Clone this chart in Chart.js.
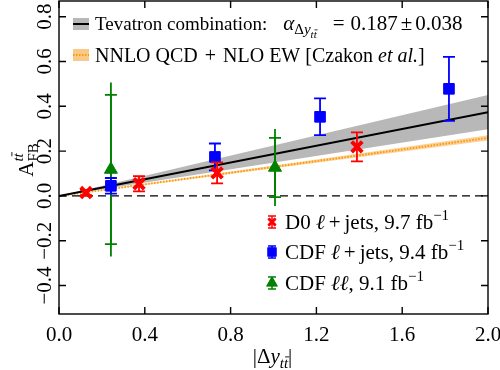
<!DOCTYPE html>
<html>
<head>
<meta charset="utf-8">
<script src="https://cdn.jsdelivr.net/npm/chart.js@4.4.0/dist/chart.umd.min.js"></script>
<style>
  html, body { margin: 0; padding: 0; background: #fff; }
  #wrap { width: 500px; height: 370px; position: relative; }
</style>
</head>
<body>
<div id="wrap"><canvas id="afbChart"></canvas></div>
<script>
// D0 lepton+jets
const d0X = [0.126, 0.373, 0.737, 1.389];
const d0Y = [0.015, 0.054, 0.103, 0.219];
const d0Err = [0.012, 0.034, 0.047, 0.065];

// CDF lepton+jets
const cdfLjX = [0.242, 0.727, 1.217, 1.818];
const cdfLjY = [0.045, 0.174, 0.353, 0.478];
const cdfLjErr = [0.035, 0.060, 0.082, 0.143];

// CDF dilepton (stat caps + total stem)
const cdfLLX = [0.242, 1.007];
const cdfLLY = [0.118, 0.127];
const cdfLLErr = [0.333, 0.132];
const cdfLLErrTot = [0.388, 0.172];

// Tevatron combination line and band
const fitX = [0, 2];
const tevY = [0, 0.374];
const tevLo = [0, 0.298];
const tevHi = [0, 0.450];

// NNLO QCD + NLO EW prediction
const nnloY = [0, 0.259];
const nnloLo = [0, 0.247];
const nnloHi = [0, 0.271];

const xTicks = [0, 0.4, 0.8, 1.2, 1.6, 2.0];
const yTicks = [-0.4, -0.2, 0, 0.2, 0.4, 0.6, 0.8];

const SERIF = '"Liberation Serif", "DejaVu Serif", serif';
const FS = 20;

function pts(xs, ys) {
    return xs.map((x, i) => ({ x: x, y: ys[i] }));
}

function fmtY(v) {
    return Number(v).toFixed(1).replace('-', '−');
}

function fontOf(p) {
    return (p.i ? 'italic ' : '') + (p.s || FS) + 'px ' + SERIF;
}

// lay out text pieces with sub/superscripts
function richLayout(ctx, parts) {
    let cx = 0, prevStart = 0, prevW = 0;
    const out = [];
    parts.forEach(p => {
        ctx.font = fontOf(p);
        const w = ctx.measureText(p.t).width;
        const start = p.stack ? prevStart : cx + (p.gap || 0);
        out.push({ p: p, start: start, w: w });
        if (p.stack) {
            cx = prevStart + Math.max(prevW, w);
        } else {
            cx = start + w;
            prevStart = start;
            prevW = w;
        }
    });
    return { out: out, width: cx };
}

function drawRich(ctx, x, y, parts, align) {
    const lay = richLayout(ctx, parts);
    const x0 = align === 'center' ? x - lay.width / 2 : x;
    ctx.textAlign = 'left';
    ctx.textBaseline = 'alphabetic';
    lay.out.forEach(o => {
        const s = o.p.s || FS;
        ctx.font = fontOf(o.p);
        const yy = y + (o.p.dy || 0);
        ctx.fillText(o.p.t, x0 + o.start, yy);
        if (o.p.bar) {
            // macron over the last letter
            const lw = ctx.measureText(o.p.t.slice(-1)).width;
            const by = yy - s * 0.74;
            ctx.save();
            ctx.strokeStyle = ctx.fillStyle;
            ctx.lineWidth = Math.max(0.8, s * 0.06);
            ctx.beginPath();
            ctx.moveTo(x0 + o.start + o.w - lw + s * 0.08, by);
            ctx.lineTo(x0 + o.start + o.w + s * 0.08, by);
            ctx.stroke();
            ctx.restore();
        }
    });
}

function errBar(ctx, px, yTop, yBot, cap, color, lw, withCaps) {
    ctx.strokeStyle = color;
    ctx.lineWidth = lw;
    ctx.beginPath();
    ctx.moveTo(px, yTop);
    ctx.lineTo(px, yBot);
    if (withCaps) {
        ctx.moveTo(px - cap, yTop);
        ctx.lineTo(px + cap, yTop);
        ctx.moveTo(px - cap, yBot);
        ctx.lineTo(px + cap, yBot);
    }
    ctx.stroke();
}

// error bars drawn just before each marker dataset
const errorBars = {
    id: 'errorBars',
    beforeDatasetDraw(chart, args) {
        const ds = chart.data.datasets[args.index];
        if (!ds.err) return;
        const ctx = chart.ctx;
        const xs = chart.scales.x, ys = chart.scales.y;
        const a = chart.chartArea;
        ctx.save();
        ctx.beginPath();
        ctx.rect(a.left, a.top, a.right - a.left, a.bottom - a.top);
        ctx.clip();
        ds.data.forEach((p, i) => {
            const px = xs.getPixelForValue(p.x);
            if (ds.errTot) {
                errBar(ctx, px, ys.getPixelForValue(p.y + ds.errTot[i]), ys.getPixelForValue(p.y - ds.errTot[i]), 0, ds.borderColor, 1.8, false);
            }
            errBar(ctx, px, ys.getPixelForValue(p.y + ds.err[i]), ys.getPixelForValue(p.y - ds.err[i]), 6, ds.borderColor, 1.8, true);
        });
        ctx.restore();
    }
};

// frame, inward ticks, rotated y labels, axis titles and the two legends
const decorations = {
    id: 'decorations',
    afterDraw(chart) {
        const ctx = chart.ctx;
        const a = chart.chartArea;
        const xs = chart.scales.x, ys = chart.scales.y;
        const tl = 7;
        ctx.save();
        ctx.strokeStyle = '#000';
        ctx.lineWidth = 1.4;
        ctx.beginPath();
        xs.ticks.forEach(t => {
            const px = xs.getPixelForValue(t.value);
            ctx.moveTo(px, a.bottom); ctx.lineTo(px, a.bottom - tl);
            ctx.moveTo(px, a.top); ctx.lineTo(px, a.top + tl);
        });
        ys.ticks.forEach(t => {
            const py = ys.getPixelForValue(t.value);
            ctx.moveTo(a.left, py); ctx.lineTo(a.left + tl, py);
            ctx.moveTo(a.right, py); ctx.lineTo(a.right - tl, py);
        });
        ctx.stroke();
        ctx.strokeRect(a.left, a.top, a.right - a.left, a.bottom - a.top);

        ctx.fillStyle = '#000';
        // y tick labels, reading upwards
        ys.ticks.forEach(t => {
            const py = ys.getPixelForValue(t.value);
            ctx.save();
            ctx.translate(a.left - 13.5, py);
            ctx.rotate(-Math.PI / 2);
            ctx.font = '21px ' + SERIF;
            ctx.textAlign = 'center';
            ctx.textBaseline = 'middle';
            ctx.fillText(fmtY(t.value), 0, 0);
            ctx.restore();
        });

        // x title
        drawRich(ctx, (a.left + a.right) / 2 - 1, 363, [
            { t: '|Δ', s: 21 }, { t: 'y', s: 21, i: true },
            { t: 'tt', s: 15, i: true, dy: 5, bar: true }, { t: '|', s: 21 }
        ], 'center');
        // y title
        ctx.save();
        ctx.translate(33, 160);
        ctx.rotate(-Math.PI / 2);
        drawRich(ctx, 0, 0, [
            { t: 'A', s: 21 }, { t: 'FB', s: 15, dy: 5 },
            { t: 'tt', s: 15, i: true, dy: -10, bar: true, stack: true }
        ], 'center');
        ctx.restore();

        // top legend
        ctx.fillStyle = '#b8b8b8';
        ctx.fillRect(73, 18, 16, 12);
        ctx.strokeStyle = '#000';
        ctx.lineWidth = 2;
        ctx.beginPath(); ctx.moveTo(73, 24); ctx.lineTo(89, 24); ctx.stroke();
        ctx.fillStyle = 'rgba(245, 165, 60, 0.6)';
        ctx.fillRect(73, 49, 16, 12);
        ctx.strokeStyle = '#ff9900';
        ctx.setLineDash([1.5, 1.5]);
        ctx.beginPath(); ctx.moveTo(73, 55); ctx.lineTo(89, 55); ctx.stroke();
        ctx.setLineDash([]);
        ctx.fillStyle = '#000';
        drawRich(ctx, 95, 30, [
            { t: 'Tevatron combination:', s: 19 }, { t: 'α', s: 21, i: true, gap: 16 },
            { t: 'Δ', s: 15, dy: 4 }, { t: 'y', s: 15, i: true, dy: 4 },
            { t: 'tt', s: 11, i: true, dy: 8, bar: true },
            { t: '=', s: 21, gap: 16 }, { t: '0.187', s: 21, gap: 6 },
            { t: '±', s: 21, gap: 3 }, { t: '0.038', s: 21, gap: 3 }
        ], 'left');
        drawRich(ctx, 95, 62, [
            { t: 'NNLO QCD' }, { t: '+', gap: 7 }, { t: 'NLO EW [Czakon ', gap: 7 },
            { t: 'et al.', i: true }, { t: ']' }
        ], 'left');

        // bottom legend
        const rows = [
            { c: '#ff0000', style: 'crossRot', r: 5, bw: 3, y: 222, txt: [
                { t: 'D0 ' }, { t: 'ℓ', i: true }, { t: '+', gap: 4 }, { t: 'jets, 9.7 fb', gap: 4 }, { t: '−1', s: 15, dy: -9 }] },
            { c: '#0000ff', style: 'rect', r: 5.5, bw: 1, y: 252, txt: [
                { t: 'CDF ' }, { t: 'ℓ', i: true }, { t: '+', gap: 4 }, { t: 'jets, 9.4 fb', gap: 4 }, { t: '−1', s: 15, dy: -9 }] },
            { c: '#008000', style: 'triangle', r: 5.5, bw: 1, y: 283, txt: [
                { t: 'CDF ' }, { t: 'ℓℓ', i: true }, { t: ', 9.1 fb' }, { t: '−1', s: 15, dy: -9 }] }
        ];
        rows.forEach(row => {
            errBar(ctx, 272, row.y - 6, row.y + 6, 4, row.c, 1.5, true);
            Chart.helpers.drawPoint(ctx, {
                pointStyle: row.style, radius: row.r, rotation: 0, borderWidth: row.bw
            }, 272, row.y);
            ctx.fillStyle = row.c;
            ctx.strokeStyle = row.c;
            ctx.lineWidth = row.bw;
            ctx.fill();
            ctx.stroke();
            ctx.fillStyle = '#000';
            drawRich(ctx, 285, row.y + 7, row.txt.map(p => Object.assign({ s: 21 }, p)), 'left');
        });
        ctx.restore();
    }
};

function markerSet(label, xs, ys, err, color, style, radius, bw) {
    return {
        label: label,
        data: pts(xs, ys),
        err: err,
        showLine: false,
        pointStyle: style,
        pointRadius: radius,
        pointBorderWidth: bw,
        borderColor: color,
        backgroundColor: color,
        pointBackgroundColor: color,
        pointBorderColor: color
    };
}

const cdfLL = markerSet('CDF ll', cdfLLX, cdfLLY, cdfLLErr, '#008000', 'triangle', 7.5, 1);
cdfLL.errTot = cdfLLErrTot;

const datasets = [
    markerSet('D0 l+jets', d0X, d0Y, d0Err, '#ff0000', 'crossRot', 7.5, 4),
    markerSet('CDF l+jets', cdfLjX, cdfLjY, cdfLjErr, '#0000ff', 'rect', 7.5, 1),
    cdfLL,
    {
        label: 'Tevatron', data: pts(fitX, tevY),
        borderColor: '#000', borderWidth: 2, pointRadius: 0, fill: false
    },
    {
        label: 'Tevatron hi', data: pts(fitX, tevHi),
        borderWidth: 0, pointRadius: 0, fill: '+1', backgroundColor: '#b8b8b8'
    },
    {
        label: 'Tevatron lo', data: pts(fitX, tevLo),
        borderWidth: 0, pointRadius: 0, fill: false
    },
    {
        label: 'NNLO', data: pts(fitX, nnloY),
        borderColor: '#ff9900', borderWidth: 2, borderDash: [1.5, 1.5], pointRadius: 0, fill: false
    },
    {
        label: 'NNLO hi', data: pts(fitX, nnloHi),
        borderWidth: 0, pointRadius: 0, fill: '+1', backgroundColor: 'rgba(245, 165, 60, 0.5)'
    },
    {
        label: 'NNLO lo', data: pts(fitX, nnloLo),
        borderWidth: 0, pointRadius: 0, fill: false
    },
    {
        label: 'zero', data: pts(fitX, [0, 0]),
        borderColor: '#000', borderWidth: 1.3, borderDash: [8, 5], pointRadius: 0, fill: false
    }
];

new Chart(document.getElementById('afbChart'), {
    type: 'line',
    data: { datasets: datasets },
    options: {
        responsive: true,
        maintainAspectRatio: false,
        animation: false,
        events: [],
        layout: { autoPadding: false, padding: { top: 1, right: 12, left: 0, bottom: 0 } },
        plugins: {
            legend: { display: false },
            tooltip: { enabled: false }
        },
        scales: {
            x: {
                type: 'linear',
                min: 0,
                max: 2,
                afterBuildTicks: (s) => { s.ticks = xTicks.map(v => ({ value: v })); },
                afterFit: (s) => { s.height = 56; s.paddingLeft = 0; s.paddingRight = 0; },
                grid: { display: false },
                border: { display: false },
                ticks: {
                    color: '#000',
                    padding: 1,
                    maxRotation: 0,
                    font: { family: SERIF, size: 21 },
                    callback: (v) => Number(v).toFixed(1)
                }
            },
            y: {
                type: 'linear',
                min: -0.527,
                max: 0.87,
                bounds: 'data',
                afterBuildTicks: (s) => { s.ticks = yTicks.map(v => ({ value: v })); },
                afterFit: (s) => { s.width = 59; },
                grid: { display: false },
                border: { display: false },
                ticks: { display: false }
            }
        }
    },
    plugins: [errorBars, decorations]
});
</script>
</body>
</html>
